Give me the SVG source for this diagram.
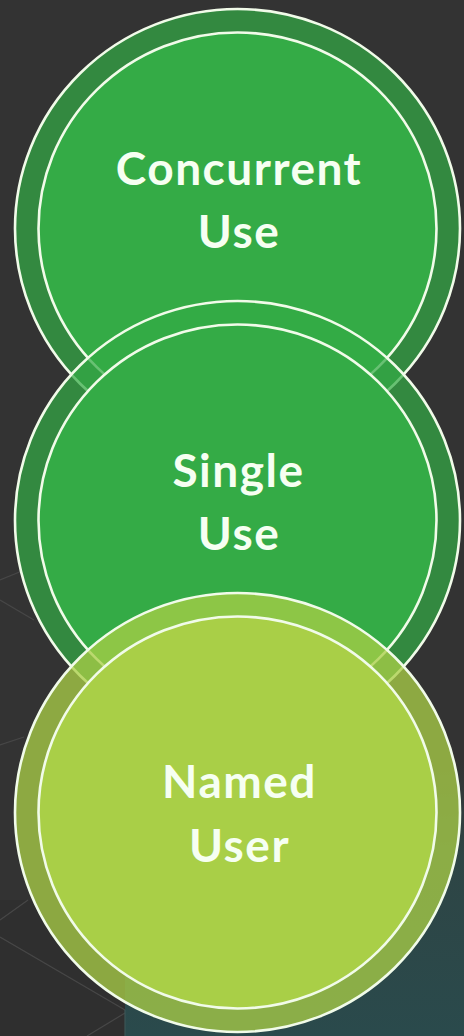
<svg xmlns="http://www.w3.org/2000/svg" width="464" height="1036" viewBox="0 0 464 1036">
  <defs>
    <linearGradient id="teal" x1="0" y1="0" x2="0" y2="1">
      <stop offset="0" stop-color="#333333"/>
      <stop offset="0.35" stop-color="#2e4545"/>
      <stop offset="1" stop-color="#2a4a4c"/>
    </linearGradient>
    <style>
      .ring { stroke: #f1fbe9; stroke-width: 2.6; }
      .inner { stroke: #f1fbe9; stroke-width: 2.6; }
      .g-ring { fill: #33aa45; fill-opacity: 0.72; }
      .g-fill { fill: #34ab46; }
      .l-ring { fill: #a9cf47; fill-opacity: 0.76; }
      .l-fill { fill: #a9cf47; }
      .label { font-family: Lato, "Open Sans", "Liberation Sans", sans-serif; font-weight: 700; font-size: 46px; letter-spacing: 1.5px; fill: #f6fff2; text-anchor: middle; }
      .bgline { stroke: #474747; stroke-width: 1.2; fill: none; }
    </style>
  </defs>

  <!-- background -->
  <rect x="0" y="0" width="464" height="1036" fill="#333333"/>
  <rect x="125" y="760" width="339" height="276" fill="url(#teal)"/>
  <rect x="0" y="900" width="125" height="136" fill="#2f2f2f"/>
  <g id="background-lines">
    <path class="bgline" d="M0 580 L22 571"/>
    <path class="bgline" d="M0 600 L34 620"/>
    <path class="bgline" d="M0 745 L24 737"/>
    <path class="bgline" d="M0 920 L28 900"/>
    <path class="bgline" d="M0 937 L125 1010"/>
    <path class="bgline" d="M87 1036 L125 1013"/>
    <path d="M125 1010 L125 1036" stroke="#3c5556" stroke-width="1.2"/>
  </g>

  <g id="connectors"/>

  <g id="node-concurrent-use">
    <ellipse class="g-ring ring" cx="237.5" cy="228.5" rx="222.5" ry="219.5"/>
    <ellipse class="g-fill inner" cx="237.5" cy="228.5" rx="199" ry="196"/>
    <text class="label" x="239" y="185">Concurrent</text>
    <text class="label" x="239" y="248">Use</text>
  </g>

  <g id="node-single-use">
    <ellipse class="g-ring ring" cx="237.5" cy="520.5" rx="222.5" ry="219.5"/>
    <ellipse class="g-fill inner" cx="237.5" cy="520.5" rx="199" ry="196"/>
    <text class="label" x="238.5" y="487">Single</text>
    <text class="label" x="239" y="550">Use</text>
  </g>

  <g id="node-named-user">
    <ellipse class="l-ring ring" cx="237.5" cy="812.5" rx="222.5" ry="219.5"/>
    <ellipse class="l-fill inner" cx="237.5" cy="812.5" rx="199" ry="196"/>
    <text class="label" x="239.5" y="798">Named</text>
    <text class="label" x="239.5" y="862">User</text>
  </g>
</svg>
